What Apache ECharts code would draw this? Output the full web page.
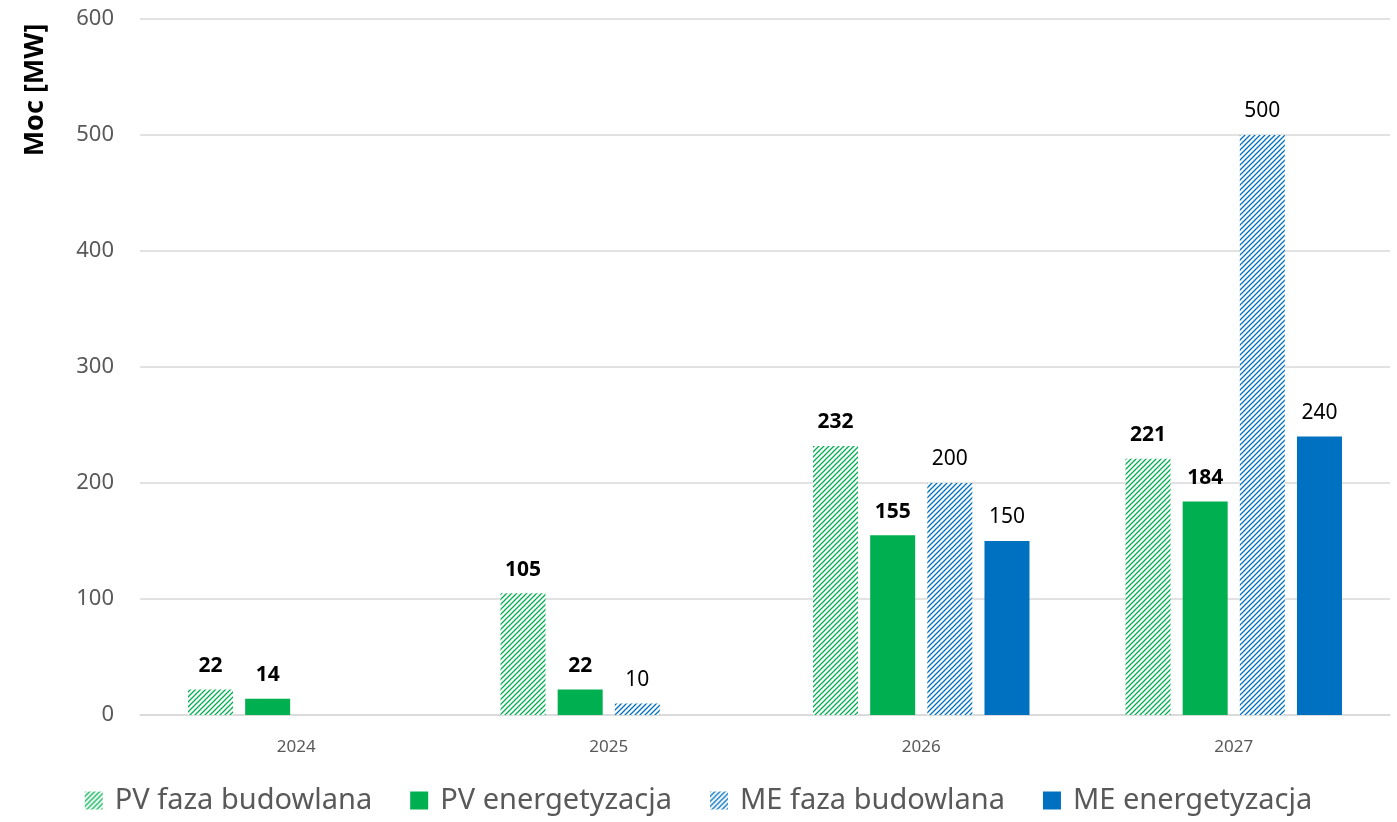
<!DOCTYPE html>
<html>
<head>
<meta charset="utf-8">
<script src="https://cdn.jsdelivr.net/npm/echarts@6/dist/echarts.min.js"></script>
<style>
  html, body { margin: 0; padding: 0; background: #fff; }
  #chart { width: 1397px; height: 822px; }
</style>
</head>
<body>
<div id="chart"></div>
<script>
// Years on the category axis
const years = ['2024', '2025', '2026', '2027'];

// Installed capacity per stage [MW]
const pvConstruction = [22, 105, 232, 221];
const pvEnergization = [14, 22, 155, 184];
const meConstruction = [null, 10, 200, 500];
const meEnergization = [null, null, 150, 240];

const seriesNames = ['PV faza budowlana', 'PV energetyzacja', 'ME faza budowlana', 'ME energetyzacja'];
const axisTitle = 'Moc [MW]';

const GREEN = '#00B050';
const BLUE = '#0070C0';

// Diagonal hatch fill built on a small canvas tile
function hatch(color) {
  const s = 5;
  const c = document.createElement('canvas');
  c.width = s; c.height = s;
  const g = c.getContext('2d');
  g.fillStyle = '#ffffff';
  g.fillRect(0, 0, s, s);
  g.strokeStyle = color;
  g.lineWidth = 1.3;
  g.beginPath();
  g.moveTo(-1, s + 1); g.lineTo(s + 1, -1);
  g.moveTo(-1, 1); g.lineTo(1, -1);
  g.moveTo(s - 1, s + 1); g.lineTo(s + 1, s - 1);
  g.stroke();
  return { image: c, repeat: 'repeat' };
}

const FONT = '"Noto Sans", "Open Sans", sans-serif';

function barSeries(name, data, fill, bold) {
  return {
    name: name,
    type: 'bar',
    data: data,
    barWidth: 45,
    barGap: '27%',
    itemStyle: { color: fill },
    label: {
      show: true,
      position: 'top',
      distance: 13,
      color: '#000',
      fontSize: 21,
      fontFamily: FONT,
      fontWeight: bold ? 'bold' : 'normal'
    }
  };
}

const chart = echarts.init(document.getElementById('chart'), null, { renderer: 'canvas' });

chart.setOption({
  animation: false,
  backgroundColor: '#ffffff',
  grid: { left: 140, right: 7, top: 19, bottom: 107, containLabel: false },
  graphic: [{
    type: 'text',
    x: 35,
    y: 90,
    rotation: Math.PI / 2,
    style: {
      text: axisTitle,
      fontSize: 27,
      fontWeight: 'bold',
      fill: '#000',
      fontFamily: FONT,
      align: 'center',
      verticalAlign: 'middle'
    }
  }],
  legend: {
    bottom: 2,
    left: 'center',
    icon: 'rect',
    itemWidth: 18,
    itemHeight: 18,
    itemGap: 38,
    textStyle: { fontSize: 29, color: '#595959', fontFamily: FONT, padding: [0, 0, 0, 7] },
    data: seriesNames
  },
  xAxis: {
    type: 'category',
    data: years,
    axisLine: { show: true, lineStyle: { color: '#d9d9d9', width: 1.5 } },
    axisTick: { show: false },
    axisLabel: { fontSize: 17, color: '#595959', fontFamily: FONT, margin: 24 }
  },
  yAxis: {
    type: 'value',
    min: 0,
    max: 600,
    interval: 100,
    axisLine: { show: false },
    axisTick: { show: false },
    axisLabel: { fontSize: 22, color: '#595959', fontFamily: FONT, margin: 26 },
    splitLine: { lineStyle: { color: '#d9d9d9', width: 1.5 } }
  },
  series: [
    barSeries(seriesNames[0], pvConstruction, hatch(GREEN), true),
    barSeries(seriesNames[1], pvEnergization, GREEN, true),
    barSeries(seriesNames[2], meConstruction, hatch(BLUE), false),
    barSeries(seriesNames[3], meEnergization, BLUE, false)
  ]
});
</script>
</body>
</html>
